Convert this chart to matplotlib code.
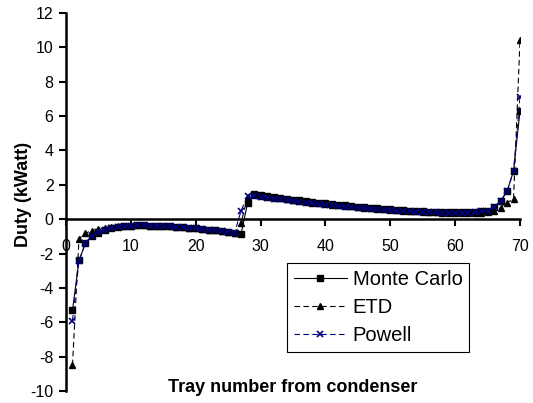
import numpy as np
import matplotlib
matplotlib.use("Agg")
import matplotlib.pyplot as plt

plt.rcParams['font.family'] = ['Liberation Sans', 'DejaVu Sans']
plt.rcParams['axes.unicode_minus'] = False

# tray numbers 1..70
trays = list(range(1, 71))

monte_carlo = [
    -5.30, -2.40, -1.40, -1.00, -0.78, -0.62, -0.52, -0.45, -0.40, -0.37,
    -0.36, -0.36, -0.37, -0.38, -0.40, -0.42, -0.44, -0.47, -0.50, -0.53,
    -0.57, -0.61, -0.65, -0.70, -0.75, -0.80, -0.86, 0.95, 1.45, 1.40,
    1.34, 1.29, 1.24, 1.19, 1.14, 1.09, 1.04, 1.00, 0.96, 0.92,
    0.88, 0.84, 0.80, 0.77, 0.73, 0.70, 0.67, 0.64, 0.61, 0.58,
    0.55, 0.53, 0.50, 0.48, 0.46, 0.44, 0.42, 0.41, 0.40, 0.39,
    0.39, 0.40, 0.42, 0.46, 0.50, 0.68, 1.05, 1.62, 2.80, 6.30,
]

etd = [
    -8.50, -1.15, -0.82, -0.66, -0.56, -0.49, -0.44, -0.41, -0.38, -0.37,
    -0.36, -0.36, -0.37, -0.38, -0.40, -0.42, -0.44, -0.47, -0.50, -0.53,
    -0.57, -0.61, -0.65, -0.70, -0.75, -0.80, -0.20, 1.30, 1.42, 1.37,
    1.31, 1.26, 1.21, 1.16, 1.11, 1.06, 1.01, 0.97, 0.93, 0.89,
    0.85, 0.81, 0.77, 0.74, 0.70, 0.67, 0.64, 0.61, 0.58, 0.55,
    0.52, 0.50, 0.47, 0.45, 0.43, 0.41, 0.39, 0.38, 0.37, 0.36,
    0.36, 0.35, 0.35, 0.36, 0.40, 0.48, 0.67, 0.97, 1.16, 10.40,
]

powell = [
    -5.90, -2.45, -1.38, -0.98, -0.76, -0.61, -0.51, -0.44, -0.40, -0.37,
    -0.36, -0.36, -0.37, -0.38, -0.40, -0.42, -0.44, -0.47, -0.50, -0.53,
    -0.57, -0.61, -0.65, -0.70, -0.75, -0.80, 0.50, 1.35, 1.36, 1.31,
    1.25, 1.20, 1.15, 1.10, 1.05, 1.00, 0.96, 0.92, 0.88, 0.84,
    0.80, 0.77, 0.73, 0.70, 0.67, 0.64, 0.61, 0.58, 0.55, 0.53,
    0.50, 0.48, 0.46, 0.44, 0.42, 0.41, 0.39, 0.38, 0.37, 0.37,
    0.37, 0.38, 0.41, 0.45, 0.50, 0.68, 1.05, 1.62, 2.80, 7.10,
]

xticks = [0, 10, 20, 30, 40, 50, 60, 70]
yticks = [-10, -8, -6, -4, -2, 0, 2, 4, 6, 8, 10, 12]

fig = plt.figure(figsize=(5.33, 4.03), dpi=100)
ax = fig.add_axes([66 / 533, 12 / 403, 454 / 533, 378 / 403])

ax.plot(trays, monte_carlo, color='black', lw=0.8, marker='s', ms=4.2,
        label='Monte Carlo', zorder=3)
ax.plot(trays, etd, color='black', lw=0.8, ls=(0, (5, 3)), marker='^', ms=4.5,
        label='ETD', zorder=3)
ax.plot(trays, powell, color='#000080', lw=0.8, ls=(0, (5, 3)), marker='x',
        ms=4.5, mew=1.2, label='Powell', zorder=4)

ax.set_xlim(0, 70)
ax.set_ylim(-10, 12)
ax.set_xticks(xticks)
ax.set_yticks(yticks)

# axes cross at the origin, Excel style
ax.spines['left'].set_position(('data', 0))
ax.spines['bottom'].set_position(('data', 0))
ax.spines['right'].set_visible(False)
ax.spines['top'].set_visible(False)
for s in ('left', 'bottom'):
    ax.spines[s].set_linewidth(1.8)

ax.tick_params(axis='both', direction='out', length=5, width=1.5, labelsize=11.5)
ax.tick_params(axis='y', pad=4)
ax.tick_params(axis='x', pad=9)

ax.set_xlabel('Tray number from condenser', fontsize=13, fontweight='bold')
ax.xaxis.set_label_coords(0.5, 0.032)
ax.set_ylabel('Duty (kWatt)', fontsize=13, fontweight='bold')
ax.yaxis.set_label_coords(-0.075, 0.52)

leg = ax.legend(loc='upper left', bbox_to_anchor=(0.487, 0.338),
                borderaxespad=0, fontsize=14.5, fancybox=False, framealpha=1,
                edgecolor='black', handlelength=2.6, handletextpad=0.3,
                labelspacing=0.45, borderpad=0.35)
leg.get_frame().set_linewidth(0.8)

fig.savefig('out.png', dpi=100)
